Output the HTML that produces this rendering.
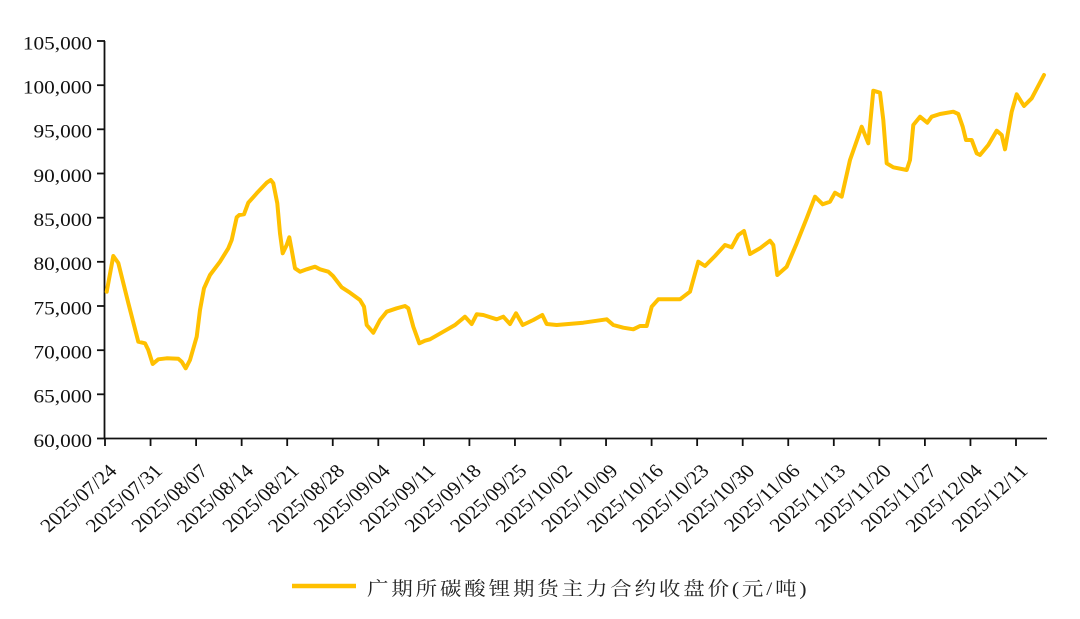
<!DOCTYPE html>
<html>
<head>
<meta charset="utf-8">
<style>
  html, body { margin: 0; padding: 0; background: #ffffff; }
  svg { display: block; }
  .yl { font-family: "Liberation Serif", serif; font-size: 19px; fill: #111; }
  .xl { font-family: "Liberation Serif", serif; font-size: 19px; fill: #111; }
  .lg { font-family: "Liberation Serif", "Noto Serif CJK SC", serif; font-size: 19px; fill: #222; }
</style>
</head>
<body>
<svg width="1080" height="619" viewBox="0 0 1080 619" xmlns="http://www.w3.org/2000/svg">
  <rect width="1080" height="619" fill="#ffffff"/>

  <!-- axes -->
  <line x1="104.5" y1="41" x2="104.5" y2="439" stroke="#111" stroke-width="1.8"/>
  <line x1="104" y1="438.5" x2="1047" y2="438.5" stroke="#111" stroke-width="1.8"/>

  <!-- y ticks -->
  <g stroke="#111" stroke-width="1.8">
    <line x1="97" y1="41" x2="105" y2="41"/>
    <line x1="97" y1="85.2" x2="105" y2="85.2"/>
    <line x1="97" y1="129.3" x2="105" y2="129.3"/>
    <line x1="97" y1="173.5" x2="105" y2="173.5"/>
    <line x1="97" y1="217.7" x2="105" y2="217.7"/>
    <line x1="97" y1="261.8" x2="105" y2="261.8"/>
    <line x1="97" y1="306" x2="105" y2="306"/>
    <line x1="97" y1="350.2" x2="105" y2="350.2"/>
    <line x1="97" y1="394.3" x2="105" y2="394.3"/>
    <line x1="97" y1="438.5" x2="105" y2="438.5"/>
  </g>

  <!-- y labels -->
  <g class="yl" text-anchor="end">
    <text transform="translate(92,49.3) scale(1.12,1)">105,000</text>
    <text transform="translate(92,93.5) scale(1.12,1)">100,000</text>
    <text transform="translate(92,137.6) scale(1.12,1)">95,000</text>
    <text transform="translate(92,181.8) scale(1.12,1)">90,000</text>
    <text transform="translate(92,226) scale(1.12,1)">85,000</text>
    <text transform="translate(92,270.1) scale(1.12,1)">80,000</text>
    <text transform="translate(92,314.3) scale(1.12,1)">75,000</text>
    <text transform="translate(92,358.5) scale(1.12,1)">70,000</text>
    <text transform="translate(92,402.6) scale(1.12,1)">65,000</text>
    <text transform="translate(92,446.8) scale(1.12,1)">60,000</text>
  </g>

  <!-- x ticks -->
  <g stroke="#111" stroke-width="1.8">
    <line x1="105" y1="438" x2="105" y2="446"/>
    <line x1="150.55" y1="438" x2="150.55" y2="446"/>
    <line x1="196.1" y1="438" x2="196.1" y2="446"/>
    <line x1="241.65" y1="438" x2="241.65" y2="446"/>
    <line x1="287.2" y1="438" x2="287.2" y2="446"/>
    <line x1="332.75" y1="438" x2="332.75" y2="446"/>
    <line x1="378.3" y1="438" x2="378.3" y2="446"/>
    <line x1="423.85" y1="438" x2="423.85" y2="446"/>
    <line x1="469.4" y1="438" x2="469.4" y2="446"/>
    <line x1="514.95" y1="438" x2="514.95" y2="446"/>
    <line x1="560.5" y1="438" x2="560.5" y2="446"/>
    <line x1="606.05" y1="438" x2="606.05" y2="446"/>
    <line x1="651.6" y1="438" x2="651.6" y2="446"/>
    <line x1="697.15" y1="438" x2="697.15" y2="446"/>
    <line x1="742.7" y1="438" x2="742.7" y2="446"/>
    <line x1="788.25" y1="438" x2="788.25" y2="446"/>
    <line x1="833.8" y1="438" x2="833.8" y2="446"/>
    <line x1="879.35" y1="438" x2="879.35" y2="446"/>
    <line x1="924.9" y1="438" x2="924.9" y2="446"/>
    <line x1="970.45" y1="438" x2="970.45" y2="446"/>
    <line x1="1016" y1="438" x2="1016" y2="446"/>
  </g>

  <!-- x labels -->
  <g class="xl" text-anchor="end">
    <text transform="translate(118,472) scale(1.13,1) rotate(-45)">2025/07/24</text>
    <text transform="translate(163.55,472) scale(1.13,1) rotate(-45)">2025/07/31</text>
    <text transform="translate(209.1,472) scale(1.13,1) rotate(-45)">2025/08/07</text>
    <text transform="translate(254.65,472) scale(1.13,1) rotate(-45)">2025/08/14</text>
    <text transform="translate(300.2,472) scale(1.13,1) rotate(-45)">2025/08/21</text>
    <text transform="translate(345.75,472) scale(1.13,1) rotate(-45)">2025/08/28</text>
    <text transform="translate(391.3,472) scale(1.13,1) rotate(-45)">2025/09/04</text>
    <text transform="translate(436.85,472) scale(1.13,1) rotate(-45)">2025/09/11</text>
    <text transform="translate(482.4,472) scale(1.13,1) rotate(-45)">2025/09/18</text>
    <text transform="translate(527.95,472) scale(1.13,1) rotate(-45)">2025/09/25</text>
    <text transform="translate(573.5,472) scale(1.13,1) rotate(-45)">2025/10/02</text>
    <text transform="translate(619.05,472) scale(1.13,1) rotate(-45)">2025/10/09</text>
    <text transform="translate(664.6,472) scale(1.13,1) rotate(-45)">2025/10/16</text>
    <text transform="translate(710.15,472) scale(1.13,1) rotate(-45)">2025/10/23</text>
    <text transform="translate(755.7,472) scale(1.13,1) rotate(-45)">2025/10/30</text>
    <text transform="translate(801.25,472) scale(1.13,1) rotate(-45)">2025/11/06</text>
    <text transform="translate(846.8,472) scale(1.13,1) rotate(-45)">2025/11/13</text>
    <text transform="translate(892.35,472) scale(1.13,1) rotate(-45)">2025/11/20</text>
    <text transform="translate(937.9,472) scale(1.13,1) rotate(-45)">2025/11/27</text>
    <text transform="translate(983.45,472) scale(1.13,1) rotate(-45)">2025/12/04</text>
    <text transform="translate(1029,472) scale(1.13,1) rotate(-45)">2025/12/11</text>
  </g>

  <!-- series -->
  <polyline fill="none" stroke="#FFC000" stroke-width="4" stroke-linejoin="round" stroke-linecap="round"
    points="106.7,291.7 113.3,256 118.3,263 128.3,303 138.3,341.7 145,343.3 148.3,350 152.7,364 158.3,359.3 166.7,358.3 178.3,358.7 181.7,361.7 185.7,368.3 190,360 196.7,336.7 200,310 204,288.3 210,275 220,261.7 228.3,248.3 231.7,240 236.7,217.3 239.3,215 244,214.3 248.3,202.7 256.7,193.3 266.7,182.7 270.7,180 273.3,183.3 277.3,203.3 280,233.3 282.7,253.3 286.7,245 289.3,237.3 291.7,250 295,268.3 300,271.7 306.7,269.3 315,266.7 320,269.3 328.3,271.7 333,276 341.7,287.3 350,292.7 360,300 364,306.7 366.7,325 373.3,332.7 380,320 386.7,311.7 396.7,308.3 405,306 408.3,308.3 413.3,326.7 419.3,343.3 425,340.7 430,339.3 443.3,331.7 455,325 465,316.7 471.7,324 476.7,314.3 483.3,315 496.7,319.3 503.3,316.7 510,324 516,313.3 522.7,325 533.3,320 542.3,315 546.7,324 556.7,325 583.3,322.7 606.7,319.3 613.3,325 623.3,327.7 633.3,329.3 640,326 646.7,326 651.7,306.7 658.3,299.3 670,299.3 680,299.3 690,291.7 698.3,261.7 705,266 715,256 725,245 731.7,247.3 738.3,235 744,231 750,254 760,248.3 770,240.7 773.3,245 777.3,275 786.7,266.7 796.7,243.3 806.7,218.3 815,196.7 822.7,204.3 830,201.7 835,192.7 841.7,196.7 850,160 861.7,126.7 868.3,143.3 873.3,90.7 880,92.7 883.3,120 886.7,163.3 893.3,167.3 906.7,170 910,160 913.3,125 920,116.7 927.3,122.7 931.7,116.7 940,114 953.3,111.7 958.3,114 962.7,126.7 966,140 971.7,140 976.7,153.3 980,155 988.3,145 996.7,130.7 1001.7,135 1005,149.3 1011.7,111.7 1016.7,94.3 1024,106 1031.7,98.3 1044,75"/>

  <!-- legend -->
  <line x1="292" y1="586" x2="356" y2="586" stroke="#FFC000" stroke-width="4.5"/>
  <text class="lg" transform="translate(367,595) scale(1.13,1)" textLength="389" lengthAdjust="spacing">广期所碳酸锂期货主力合约收盘价(元/吨)</text>
</svg>
</body>
</html>
